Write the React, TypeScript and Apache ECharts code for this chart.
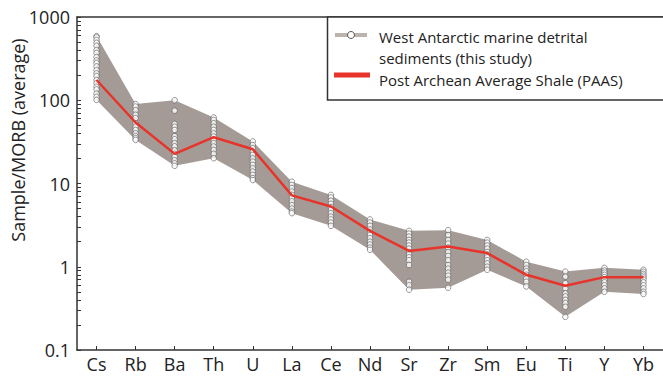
import React, { useEffect, useRef } from "react";
import * as echarts from "echarts";

// Elements (x categories)
const elements = ["Cs", "Rb", "Ba", "Th", "U", "La", "Ce", "Nd", "Sr", "Zr", "Sm", "Eu", "Ti", "Y", "Yb"];

// Post Archean Average Shale (PAAS), normalised to MORB
const paas = [175, 54, 22.7, 36, 25.8, 7.2, 5.3, 2.7, 1.55, 1.75, 1.46, 0.8, 0.59, 0.75, 0.75];

// West Antarctic marine detrital sediments, individual samples per element
const samplesCs = [590, 570, 530, 490, 450, 400, 370, 330, 300, 280, 255, 230, 210, 195, 175, 160, 145, 135, 120, 110, 101];
const samplesRb = [90, 84, 76, 67, 61, 53, 48, 44, 40, 37, 35, 33.4];
const samplesBa = [100, 75, 52, 48, 44, 37, 34, 30.5, 28, 25, 22.7, 21, 19, 17.5, 16.3];
const samplesTh = [62, 58, 53, 48, 44, 40, 36.6, 33.4, 30.5, 27.8, 25.3, 22.7, 20.1];
const samplesU = [32, 29, 26.5, 24, 22, 20, 18.3, 16.7, 15.2, 13.9, 12.7, 11.6, 11];
const samplesLa = [10.5, 9.6, 8.8, 8.0, 7.3, 6.7, 6.1, 5.5, 5.0, 4.6, 4.4];
const samplesCe = [7.3, 6.8, 6.2, 5.7, 5.2, 4.8, 4.4, 4.0, 3.7, 3.4, 3.1];
const samplesNd = [3.7, 3.4, 3.1, 2.8, 2.6, 2.4, 2.2, 2.0, 1.85, 1.7, 1.6];
const samplesSr = [2.7, 2.5, 2.3, 2.1, 1.95, 1.8, 1.65, 1.5, 1.4, 1.3, 1.2, 1.05, 0.66, 0.6, 0.53];
const samplesZr = [2.75, 2.4, 2.1, 1.9, 1.7, 1.5, 1.35, 1.2, 1.05, 0.95, 0.85, 0.78, 0.7, 0.56];
const samplesSm = [2.1, 1.95, 1.8, 1.65, 1.5, 1.4, 1.3, 1.2, 1.1, 1.0, 0.92];
const samplesEu = [1.15, 1.05, 0.95, 0.88, 0.8, 0.72, 0.66, 0.58];
const samplesTi = [0.875, 0.76, 0.635, 0.55, 0.48, 0.44, 0.4, 0.366, 0.33, 0.25];
const samplesY = [0.97, 0.9, 0.85, 0.8, 0.75, 0.7, 0.65, 0.6, 0.55, 0.5];
const samplesYb = [0.92, 0.87, 0.82, 0.78, 0.74, 0.7, 0.65, 0.6, 0.55, 0.5, 0.47];

const sampleSets = [
  samplesCs, samplesRb, samplesBa, samplesTh, samplesU, samplesLa, samplesCe, samplesNd,
  samplesSr, samplesZr, samplesSm, samplesEu, samplesTi, samplesY, samplesYb,
];

// Y axis tick labels and minor tick values
const yTickLabels = [0.1, 1, 10, 100, 1000];
const yMinorTicks = [
  0.2, 0.3, 0.4, 0.5, 0.6, 0.7, 0.8, 0.9,
  2, 3, 4, 5, 6, 7, 8, 9,
  20, 30, 40, 50, 60, 70, 80, 90,
  200, 300, 400, 500, 600, 700, 800, 900,
];

const legendSamples = "West Antarctic marine detrital";
const legendSamples2 = "sediments (this study)";
const legendPaas = "Post Archean Average Shale (PAAS)";
const yAxisTitle = "Sample/MORB (average)";

const FONT = "Open Sans";

export default function App() {
  const ref = useRef<HTMLDivElement>(null);

  useEffect(() => {
    document.body.style.margin = "0";
    if (!ref.current) return;
    const chart = echarts.init(ref.current, undefined, { renderer: "svg" });

    const envMax = sampleSets.map((s) => Math.max(...s));
    const envMin = sampleSets.map((s) => Math.min(...s));
    const scatterData: number[][] = [];
    sampleSets.forEach((s, i) => s.forEach((v) => scatterData.push([i, v])));

    const option: any = {
      animation: false,
      backgroundColor: "#ffffff",
      grid: { left: 77, right: 0, top: 17, bottom: 30, containLabel: false },
      xAxis: [
        {
          type: "category",
          data: elements,
          boundaryGap: true,
          axisLine: { show: true, lineStyle: { color: "#333", width: 1.5 } },
          axisTick: { show: true, inside: true, length: 4, alignWithLabel: true, lineStyle: { color: "#333" } },
          axisLabel: { color: "#222", fontSize: 18, fontFamily: FONT, margin: 5, interval: 0 },
          splitLine: { show: false },
        },
        {
          type: "category",
          data: elements,
          position: "top",
          axisLine: { show: true, lineStyle: { color: "#333", width: 1.5 } },
          axisTick: { show: false },
          axisLabel: { show: false },
        },
      ],
      yAxis: {
        type: "log",
        logBase: 10,
        min: 0.1,
        max: 1000,
        axisLine: { show: true, lineStyle: { color: "#333", width: 1.5 } },
        axisTick: {
          show: true,
          inside: true,
          length: 4,
          customValues: yTickLabels.concat(yMinorTicks),
          lineStyle: { color: "#333" },
        },
        axisLabel: {
          color: "#222",
          fontSize: 18,
          fontFamily: FONT,
          margin: 7,
          customValues: yTickLabels,
          formatter: (v: number) => String(v),
        },
        splitLine: { show: false },
      },
      series: [
        {
          type: "custom",
          silent: true,
          z: 1,
          clip: false,
          data: elements.map((_, i) => [i, envMin[i], envMax[i]]),
          encode: { x: 0, y: [1, 2] },
          renderItem: (params: any, api: any) => {
            if (params.dataIndex !== 0) return null;
            const top = envMax.map((v, i) => api.coord([i, v]));
            const bot = envMin.map((v, i) => api.coord([i, v])).reverse();
            return {
              type: "polygon",
              shape: { points: top.concat(bot) },
              style: { fill: "#a49b96", stroke: "none" },
            };
          },
        },
        {
          type: "scatter",
          z: 2,
          data: scatterData,
          symbol: "circle",
          symbolSize: 5.5,
          itemStyle: { color: "#ffffff", borderColor: "#5a5a5a", borderWidth: 0.8 },
        },
        {
          type: "line",
          z: 3,
          data: paas,
          symbol: "none",
          lineStyle: { color: "#e8332b", width: 2.5 },
        },
      ],
      graphic: [
        {
          type: "text",
          x: 18,
          y: 140,
          rotation: Math.PI / 2,
          style: {
            text: yAxisTitle,
            fontSize: 18,
            fontFamily: FONT,
            fill: "#222",
            align: "center",
            verticalAlign: "middle",
          },
        },
        {
          type: "rect",
          z: 10,
          shape: { x: 327.5, y: 17, width: 345, height: 83 },
          style: { fill: "#ffffff", stroke: "#333", lineWidth: 1.5 },
        },
        {
          type: "line",
          z: 11,
          shape: { x1: 335, y1: 35, x2: 367, y2: 35 },
          style: { stroke: "#bbb3ae", lineWidth: 4 },
        },
        {
          type: "circle",
          z: 12,
          shape: { cx: 351, cy: 35, r: 3.5 },
          style: { fill: "#ffffff", stroke: "#555", lineWidth: 1 },
        },
        {
          type: "line",
          z: 11,
          shape: { x1: 334, y1: 75, x2: 370, y2: 75 },
          style: { stroke: "#e8332b", lineWidth: 5 },
        },
        {
          type: "text",
          z: 11,
          x: 379,
          y: 37,
          style: { text: legendSamples, fontSize: 15, fontFamily: FONT, fill: "#222", verticalAlign: "middle" },
        },
        {
          type: "text",
          z: 11,
          x: 379,
          y: 58,
          style: { text: legendSamples2, fontSize: 15, fontFamily: FONT, fill: "#222", verticalAlign: "middle" },
        },
        {
          type: "text",
          z: 11,
          x: 379,
          y: 80,
          style: { text: legendPaas, fontSize: 15, fontFamily: FONT, fill: "#222", verticalAlign: "middle" },
        },
      ],
    };

    chart.setOption(option);
    return () => chart.dispose();
  }, []);

  return <div ref={ref} style={{ width: 663, height: 380 }} />;
}
